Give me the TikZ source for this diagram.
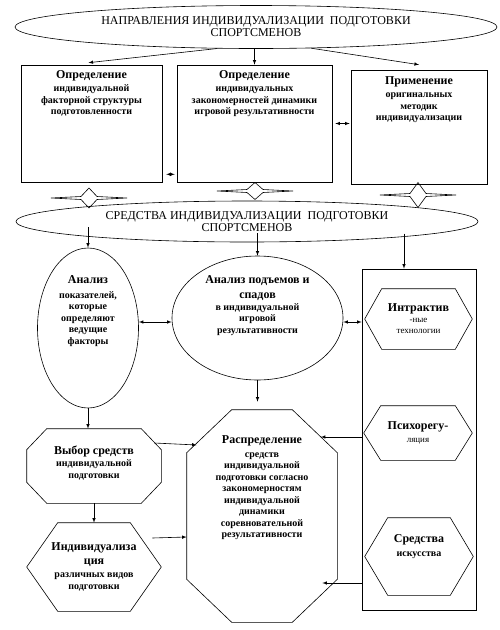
\documentclass[tikz,border=0pt]{standalone}
\usepackage{fontspec}
\setmainfont{Liberation Serif}
\usetikzlibrary{shapes.geometric}

\begin{document}
\begin{tikzpicture}[x=1pt, y=1pt, line width=0.6pt,
        oval/.style={draw, ellipse, inner sep=0pt},
        box/.style={draw, rectangle, inner sep=0pt},
        shp/.style={rectangle, inner sep=0pt, align=center, font=\bfseries\fontsize{10}{11.5}\selectfont},
        txt/.style={align=center, inner sep=1pt, font=\bfseries\fontsize{10}{11.5}\selectfont},
        arr/.style={-latex},
        dbl/.style={latex-latex}]
                \useasboundingbox (0,0) rectangle (500,-630);

                % directions
                \node[oval, minimum width=482, minimum height=43, align=center, font=\fontsize{12}{12}\selectfont] (napr) at (256,-27) {НАПРАВЛЕНИЯ ИНДИВИДУАЛИЗАЦИИ~ ПОДГОТОВКИ\\СПОРТСМЕНОВ};
                \node[box, minimum width=141, minimum height=117] (opr1) at (91.5,-123.5) {};
                \node[box, minimum width=155, minimum height=117] (opr2) at (254.5,-123.5) {};
                \node[box, minimum width=136, minimum height=114] (prim) at (419,-127) {};
                \node[txt, anchor=north] (opr1t) at ([yshift=-4.5pt]opr1.north) {{\large Определение}\\[2pt]индивидуальной\\факторной структуры\\подготовленности};
                \node[txt, anchor=north] (opr2t) at ([yshift=-4.5pt]opr2.north) {{\large Определение}\\[2pt]индивидуальных\\закономерностей динамики\\игровой результативности};
                \node[txt, anchor=north] (primt) at ([yshift=-5.5pt]prim.north) {{\large Применение}\\[2pt]оригинальных\\методик\\индивидуализации};

                \draw[arr] (napr.209) -- ([xshift=-3pt,yshift=2pt]opr1.north);
                \draw[arr] (napr.south -| opr2.north) -- (opr2.north);
                \draw[arr] (napr.-21) -- ([yshift=5pt]prim.north);
                \draw[dbl] ([xshift=4pt,yshift=8pt]opr1.south east) -- ([xshift=-2pt,yshift=8pt]opr2.south west);
                \draw[dbl] ([xshift=3pt]opr2.east) -- ([xshift=-1pt,yshift=3.5pt]prim.west);

                % stars
                \draw[shift={(89,-198)}] (-38,0) -- (-8,1.5) -- (0,10) -- (8,1.5) -- (38,0) -- (8,-1.5) -- (0,-10) -- (-8,-1.5) -- cycle;
                \draw[shift={(255,-191)}] (-38,0) -- (-8,1.5) -- (0,8.5) -- (8,1.5) -- (38,0) -- (8,-1.5) -- (0,-8.5) -- (-8,-1.5) -- cycle;
                \draw[shift={(418,-195)}] (-38,0) -- (-8,1.5) -- (0,12.5) -- (8,1.5) -- (38,0) -- (8,-1.5) -- (0,-12.5) -- (-8,-1.5) -- cycle;

                % means
                \node[oval, minimum width=462, minimum height=41, align=center, font=\fontsize{12}{12.5}\selectfont] (sred) at (247,-221.5) {СРЕДСТВА ИНДИВИДУАЛИЗАЦИИ~ ПОДГОТОВКИ\\СПОРТСМЕНОВ};
                \node[oval, minimum width=101, minimum height=160] (pok) at (88,-328) {};
                \node[oval, minimum width=171, minimum height=124] (spad) at (257.5,-318) {};
                \node[box, minimum width=114, minimum height=341] (sredbox) at (419,-439.5) {};
                \node[txt, anchor=north] (pokt) at ([yshift=-27pt]pok.north) {{\large Анализ}\\[3pt]показателей,\\которые\\определяют\\ведущие\\факторы};
                \node[txt, anchor=north] (spadt) at ([yshift=-18.5pt]spad.north) {{\large Анализ подъемов и}\\[4pt]{\large спадов}\\в индивидуальной\\игровой\\результативности};

                \node[shp, minimum width=107, minimum height=60, font=\small] (intr) at (418.5,-319) {{\large\bfseries Интрактив}\\-ные\\технологии};
                \node[shp, minimum width=108, minimum height=54, font=\small] (psih) at (418,-433) {{\large\bfseries Психорегу-}\\[2pt]ляция};
                \node[shp, minimum width=108, minimum height=77] (isk) at (419,-556.5) {};
                \node[txt, anchor=north] (iskt) at ([yshift=-16pt]isk.north) {{\large Средства}\\[2pt]искусства};
                \draw (intr.west) -- ([xshift=17pt]intr.north west) -- ([xshift=-17pt]intr.north east) -- (intr.east) -- ([xshift=-17pt]intr.south east) -- ([xshift=17pt]intr.south west) -- cycle;
                \draw (psih.west) -- ([xshift=17pt]psih.north west) -- ([xshift=-17pt]psih.north east) -- (psih.east) -- ([xshift=-17pt]psih.south east) -- ([xshift=17pt]psih.south west) -- cycle;
                \draw (isk.west) -- ([xshift=23pt]isk.north west) -- ([xshift=-23pt]isk.north east) -- (isk.east) -- ([xshift=-23pt]isk.south east) -- ([xshift=23pt]isk.south west) -- cycle;

                \node[shp, minimum width=134, minimum height=74] (vybor) at (94,-466) {};
                \node[txt, anchor=north] (vybort) at ([yshift=-15.5pt]vybor.north) {{\large Выбор средств}\\[1pt]индивидуальной\\подготовки};
                \node[shp, minimum width=134, minimum height=88] (indiv) at (94,-567) {{\large Индивидуализа}\\[2.5pt]{\large ция}\\[1.5pt]различных видов\\подготовки};
                \node[shp, minimum width=150, minimum height=212] (raspr) at (262,-516) {};
                \node[txt, anchor=north] (rasprt) at ([yshift=-25pt]raspr.north) {{\large Распределение}\\[2pt]средств\\индивидуальной\\подготовки согласно\\закономерностям\\индивидуальной\\динамики\\соревновательной\\результативности};
                \draw ([xshift=20pt]vybor.north west) -- ([xshift=-20pt]vybor.north east) -- ([yshift=-21pt]vybor.north east) -- ([yshift=21pt]vybor.south east) -- ([xshift=-20pt]vybor.south east) -- ([xshift=20pt]vybor.south west) -- ([yshift=21pt]vybor.south west) -- ([yshift=-21pt]vybor.north west) -- cycle;
                \draw (indiv.west) -- ([xshift=31pt]indiv.north west) -- ([xshift=-31pt]indiv.north east) -- (indiv.east) -- ([xshift=-31pt]indiv.south east) -- ([xshift=31pt]indiv.south west) -- cycle;
                \draw ([xshift=45pt]raspr.north west) -- ([xshift=-45pt]raspr.north east) -- ([yshift=-43pt]raspr.north east) -- ([yshift=43pt]raspr.south east) -- ([xshift=-45pt]raspr.south east) -- ([xshift=45pt]raspr.south west) -- ([yshift=43pt]raspr.south west) -- ([yshift=-43pt]raspr.north west) -- cycle;

                \draw[arr, shorten <=5.5pt] (sred.center -| pok.north) -- (pok.north);
                \draw[arr, shorten <=11.5pt] (sred.center -| spad.north) -- (spad.north);
                \draw[arr] ([xshift=-15pt,yshift=35pt]sredbox.north) -- ([xshift=-15pt]sredbox.north);
                \draw[dbl] ([yshift=6pt]pok.east) -- ([yshift=-4pt]spad.west);
                \draw[dbl] ([yshift=-4pt]spad.east) -- ([yshift=117.5pt]sredbox.west);
                \draw[arr] (spad.south) -- ([xshift=-4.5pt,yshift=8pt]raspr.north);
                \draw[arr] (pok.south) -- (pok.south |- vybor.north);
                \draw[arr] (vybor.south) -- (indiv.north);
                \draw[arr] ([xshift=-7pt,yshift=23pt]vybor.east) -- ([xshift=10pt,yshift=71pt]raspr.west);
                \draw[arr] ([xshift=-9pt,yshift=29pt]indiv.east) -- ([yshift=-21pt]raspr.west);
                \draw[arr] ([yshift=2.5pt]sredbox.west) -- ([xshift=-16.5pt,yshift=79pt]raspr.east);
                \draw[arr] ([yshift=-143.5pt]sredbox.west) -- ([xshift=-15pt,yshift=-67pt]raspr.east);
            \end{tikzpicture}
\end{document}
